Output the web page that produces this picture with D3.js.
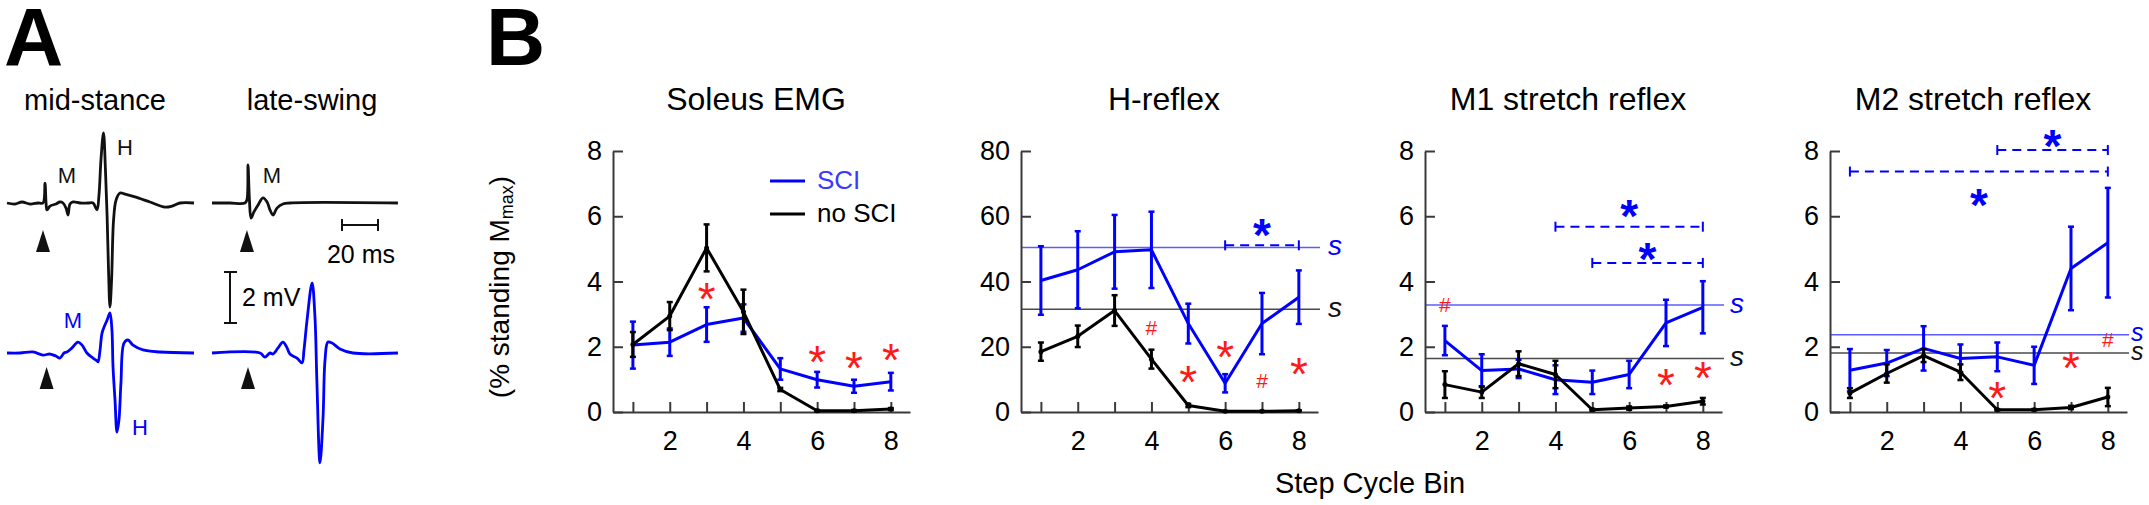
<!DOCTYPE html>
<html>
<head>
<meta charset="utf-8">
<script src="https://cdn.jsdelivr.net/npm/d3@7"></script>
<style>
  body { margin: 0; background: #fff; }
  text { font-family: "Liberation Sans", Arial, Helvetica, sans-serif; }
</style>
</head>
<body>
<svg id="fig" width="2149" height="505"></svg>
<script>
// ---------- data (panel B) ----------
var bins = [1, 2, 3, 4, 5, 6, 7, 8];
var binLabels = [2, 4, 6, 8];
var titles = ["Soleus EMG", "H-reflex", "M1 stretch reflex", "M2 stretch reflex"];

var emgSci    = [2.05, 2.14, 2.68, 2.88, 1.32, 0.99, 0.79, 0.93];
var emgSciErr = [0.72, 0.42, 0.53, 0.42, 0.33, 0.24, 0.20, 0.27];
var emgNo     = [2.07, 2.94, 5.03, 3.07, 0.69, 0.04, 0.04, 0.09];
var emgNoErr  = [0.38, 0.43, 0.72, 0.68, 0.05, 0.02, 0.02, 0.03];

var hSci    = [40.3, 43.6, 49.1, 49.7, 27.1, 8.8, 27.1, 35.2];
var hSciErr = [10.5, 11.8, 11.3, 11.7, 6.1, 2.8, 9.4, 8.2];
var hNo     = [18.5, 23.2, 31.1, 16.2, 2.0, 0.2, 0.2, 0.4];
var hNoErr  = [2.8, 3.3, 4.7, 2.9, 0.5, 0.1, 0.1, 0.1];

var m1Sci    = [2.19, 1.27, 1.32, 0.99, 0.91, 1.15, 2.73, 3.21];
var m1SciErr = [0.45, 0.50, 0.28, 0.44, 0.36, 0.42, 0.71, 0.80];
var m1No     = [0.84, 0.61, 1.48, 1.15, 0.07, 0.12, 0.17, 0.33];
var m1NoErr  = [0.41, 0.18, 0.38, 0.42, 0.03, 0.05, 0.03, 0.10];

var m2Sci    = [1.28, 1.50, 1.95, 1.64, 1.69, 1.43, 4.40, 5.19];
var m2SciErr = [0.65, 0.40, 0.68, 0.43, 0.44, 0.57, 1.28, 1.68];
var m2No     = [0.58, 1.18, 1.73, 1.22, 0.07, 0.07, 0.14, 0.46];
var m2NoErr  = [0.15, 0.28, 0.20, 0.24, 0.02, 0.02, 0.05, 0.28];

// standing values ("s" lines): [SCI, no SCI]
var hStanding  = [50.4, 31.5];
var m1Standing = [3.28, 1.64];
var m2Standing = [2.37, 1.81];

// within-group comparisons (dashed brackets): [fromBin, toBin, level, starBin, starLevel]
var hBrackets  = [[6, 8, 51.1, 7, 57.3]];
var m1Brackets = [[4, 8, 5.68, 6, 6.31], [5, 8, 4.57, 6.5, 5.0]];
var m2Brackets = [[5, 8, 8.03, 6.5, 8.48], [1, 8, 7.37, 4.5, 6.67]];

// between-group marks: [bin, symbol, level]
var emgMarks = [[3, "*", 3.78], [6, "*", 1.85], [7, "*", 1.66], [8, "*", 1.9]];
var hMarks   = [[4, "#", 26], [5, "*", 12.4], [6, "*", 20], [7, "#", 9.6], [8, "*", 14.9]];
var m1Marks  = [[1, "#", 3.29], [7, "*", 1.15], [8, "*", 1.35]];
var m2Marks  = [[5, "*", 0.74], [7, "*", 1.66], [8, "#", 2.22]];

// ---------- data (panel A traces, [ms, mV]) ----------
var msBlack = [[0,0],[4.4,-0.04],[8.3,0.04],[12.8,-0.04],[17.2,0],[20,0],[21.1,0.78],[21.7,0],[22.2,-0.27],
  [23.9,-0.12],[27.2,-0.04],[29.4,0.04],[31.1,0],[32.8,-0.2],[33.9,-0.47],[35,-0.04],[36.7,0.04],[40.6,0],
  [45,0],[47.8,0],[50,-0.27],[51.1,0.31],[52.2,1.69],[53.6,2.75],[54.7,1.29],[55.6,-0.47],[56.4,-2.63],
  [57.2,-4.08],[58.1,-3.02],[59.2,-0.67],[60.6,0.12],[62.8,0.39],[65.6,0.35],[71.1,0.24],[79.4,0.04],
  [87.8,-0.16],[91.7,-0.12],[96.1,0],[103.9,0]];
var lsBlack = [[0,0],[10,0],[18.3,0],[19.4,0.12],[20,1.49],[20.8,0.12],[21.7,-0.59],[23.3,-0.35],[25.6,-0.08],
  [28.3,0.2],[30.6,0.04],[32.2,-0.27],[33.9,-0.47],[36.1,-0.2],[39.4,-0.04],[43.3,0],[103.3,0]];
var msBlue = [[0,0],[7.2,0],[14.4,0.04],[20,-0.08],[23.9,-0.04],[27.2,-0.12],[29.4,-0.2],[31.7,0],[33.3,0.04],
  [36.1,0.2],[39.4,0.43],[41.7,0.31],[44.4,0],[47.8,-0.2],[50,-0.31],[50.6,-0.35],[51.7,0.12],[52.8,0.78],
  [54.4,1.1],[55.6,1.29],[57.2,1.57],[58.3,0.9],[58.9,-0.55],[60,-1.84],[61.1,-3.1],[62.2,-2.63],[63.3,-1.18],
  [65,0.39],[67.2,0.51],[70,0.31],[75.6,0.12],[85,0.04],[103.9,0]];
var lsBlue = [[0,0],[26.7,0],[29.4,-0.16],[32.2,0],[33.9,-0.04],[36.7,0.2],[39.4,0.43],[41.7,0.2],[43.3,-0.04],
  [47.2,-0.2],[50,-0.39],[51.1,0.12],[52.8,1.29],[55.6,2.75],[57.2,1.41],[58.3,-1.18],[60,-4.31],[61.7,-2.51],
  [62.8,-0.27],[64.4,0.43],[66.7,0.39],[71.1,0.16],[78.3,0],[103.3,0]];
var stimTimes = [20, 19.4, 22, 20]; // ms-black, ls-black, ms-blue, ls-blue

// ---------- layout ----------
var svg = d3.select("#fig");
var plotTop = 151, plotBottom = 412;
var plotW = 297, plotH = plotBottom - plotTop;
var blue = "#0000ff";
var axisColor = "#3a3a3a";

var panels = [
  {left: 613, ymax: 8,  ticks: [0, 2, 4, 6, 8],      sci: emgSci, sciErr: emgSciErr, no: emgNo, noErr: emgNoErr,
   standing: null, brackets: [], marks: emgMarks, legend: true},
  {left: 1021, ymax: 80, ticks: [0, 20, 40, 60, 80], sci: hSci, sciErr: hSciErr, no: hNo, noErr: hNoErr,
   standing: hStanding, brackets: hBrackets, marks: hMarks, sGap: 10, sSize: 28},
  {left: 1425, ymax: 8,  ticks: [0, 2, 4, 6, 8],     sci: m1Sci, sciErr: m1SciErr, no: m1No, noErr: m1NoErr,
   standing: m1Standing, brackets: m1Brackets, marks: m1Marks, sGap: 8, sSize: 28},
  {left: 1830, ymax: 8,  ticks: [0, 2, 4, 6, 8],     sci: m2Sci, sciErr: m2SciErr, no: m2No, noErr: m2NoErr,
   standing: m2Standing, brackets: m2Brackets, marks: m2Marks, sGap: 4, sSize: 25}
];

// panel letters
svg.append("text").attr("x", 4).attr("y", 65).attr("font-size", 82).attr("font-weight", "bold").text("A");
svg.append("text").attr("x", 486).attr("y", 65).attr("font-size", 82).attr("font-weight", "bold").text("B");

function drawSeries(g, x, y, vals, errs, color, dots) {
  var pts = bins.map(function(b, i) { return {b: b, v: vals[i], e: errs[i]}; });
  g.append("path").datum(pts)
    .attr("fill", "none").attr("stroke", color).attr("stroke-width", 3)
    .attr("stroke-linejoin", "round")
    .attr("d", d3.line().x(d => x(d.b)).y(d => y(d.v)));
  var eb = g.selectAll(null).data(pts).enter().append("g")
    .attr("stroke", color).attr("stroke-width", 3);
  eb.append("line")
    .attr("x1", d => x(d.b)).attr("x2", d => x(d.b))
    .attr("y1", d => y(d.v - d.e)).attr("y2", d => y(d.v + d.e));
  eb.append("line").attr("stroke-width", 2.5)
    .attr("x1", d => x(d.b) - 3).attr("x2", d => x(d.b) + 3)
    .attr("y1", d => y(d.v + d.e)).attr("y2", d => y(d.v + d.e));
  eb.append("line").attr("stroke-width", 2.5)
    .attr("x1", d => x(d.b) - 3).attr("x2", d => x(d.b) + 3)
    .attr("y1", d => y(d.v - d.e)).attr("y2", d => y(d.v - d.e));
  if (dots) {
    g.selectAll(null).data(pts).enter().append("circle")
      .attr("cx", d => x(d.b)).attr("cy", d => y(d.v)).attr("r", 2.5).attr("fill", color);
  }
}

panels.forEach(function(p, pi) {
  var g = svg.append("g").attr("transform", `translate(${p.left}, ${plotTop})`);
  var x = d3.scaleLinear().domain([0.46, 8.52]).range([0, plotW]);
  var y = d3.scaleLinear().domain([0, p.ymax]).range([plotH, 0]);

  g.append("text")
    .attr("x", 143).attr("y", 110 - plotTop)
    .attr("text-anchor", "middle").attr("font-size", 32)
    .text(titles[pi]);

  // standing reference lines
  if (p.standing) {
    var sCols = ["#5c5cff", "#4a4a4a"];
    p.standing.forEach(function(s, i) {
      g.append("line")
        .attr("x1", 0).attr("x2", plotW + 2)
        .attr("y1", y(s)).attr("y2", y(s))
        .attr("stroke", sCols[i]).attr("stroke-width", 1.6);
      g.append("text")
        .attr("x", plotW + p.sGap).attr("y", y(s)).attr("dy", "0.27em")
        .attr("font-size", p.sSize).attr("font-style", "italic")
        .attr("fill", i === 0 ? blue : "#111")
        .text("s");
    });
  }

  // axes
  var yAxis = g.append("g")
    .call(d3.axisLeft(y).tickValues(p.ticks).tickSize(-10).tickSizeOuter(0).tickPadding(11));
  var xAxis = g.append("g")
    .attr("transform", `translate(0, ${plotH})`)
    .call(d3.axisBottom(x).tickValues(bins).tickSize(-10).tickSizeOuter(0).tickPadding(19)
      .tickFormat(d => binLabels.indexOf(d) >= 0 ? d : ""));
  [xAxis, yAxis].forEach(function(a) {
    a.attr("font-size", 27).attr("font-family", null);
    a.select(".domain").attr("stroke", axisColor).attr("stroke-width", 2);
    a.selectAll(".tick line").attr("stroke", axisColor).attr("stroke-width", 2);
    a.selectAll(".tick text").attr("fill", "#000");
  });

  // series
  drawSeries(g, x, y, p.sci, p.sciErr, blue, false);
  drawSeries(g, x, y, p.no, p.noErr, "#000", true);

  // brackets
  p.brackets.forEach(function(b) {
    g.append("line")
      .attr("x1", x(b[0])).attr("x2", x(b[1]))
      .attr("y1", y(b[2])).attr("y2", y(b[2]))
      .attr("stroke", blue).attr("stroke-width", 2).attr("stroke-dasharray", "9,6");
    [b[0], b[1]].forEach(function(e) {
      g.append("line")
        .attr("x1", x(e)).attr("x2", x(e))
        .attr("y1", y(b[2]) - 5).attr("y2", y(b[2]) + 5)
        .attr("stroke", blue).attr("stroke-width", 2);
    });
    g.append("text")
      .attr("x", x(b[3])).attr("y", y(b[4])).attr("dy", "0.57em")
      .attr("text-anchor", "middle").attr("font-size", 46).attr("font-weight", "bold")
      .attr("fill", blue).text("*");
  });

  // between-group marks
  p.marks.forEach(function(m) {
    var star = m[1] === "*";
    g.append("text")
      .attr("x", x(m[0])).attr("y", y(m[2]))
      .attr("dy", star ? "0.57em" : "0.36em")
      .attr("text-anchor", "middle")
      .attr("font-size", star ? 46 : 21)
      .attr("fill", "#ff1a1a")
      .text(m[1]);
  });

  // legend
  if (p.legend) {
    var leg = [["SCI", blue, "#3a3aff"], ["no SCI", "#000", "#000"]];
    leg.forEach(function(l, i) {
      var ly = 181 - plotTop + i * 33;
      g.append("line").attr("x1", 157).attr("x2", 192).attr("y1", ly).attr("y2", ly)
        .attr("stroke", l[1]).attr("stroke-width", 3);
      g.append("text").attr("x", 204).attr("y", ly + 8).attr("font-size", 26)
        .attr("fill", l[2]).text(l[0]);
    });
  }
});

// y-axis label
var yl = svg.append("text")
  .attr("transform", "translate(509, 287) rotate(-90)")
  .attr("text-anchor", "middle").attr("font-size", 28);
yl.append("tspan").text("(% standing M");
yl.append("tspan").attr("font-size", 18).attr("dy", 4).text("max");
yl.append("tspan").attr("dy", -4).text(")");

// x-axis label
svg.append("text").attr("x", 1370).attr("y", 493).attr("text-anchor", "middle")
  .attr("font-size", 29).text("Step Cycle Bin");

// ---------- panel A ----------
var tScale = d3.scaleLinear().domain([0, 104]).range([0, 187.2]);
var vScale = d3.scaleLinear().domain([-5, 5]).range([127.5, -127.5]);
var traceLine = d3.line().x(d => tScale(d[0])).y(d => vScale(d[1])).curve(d3.curveCatmullRom.alpha(0.5));

var colX = [7, 212], rowY = [203, 353];
var traces = [
  {data: msBlack, col: 0, row: 0, color: "#111"},
  {data: lsBlack, col: 1, row: 0, color: "#111"},
  {data: msBlue,  col: 0, row: 1, color: blue},
  {data: lsBlue,  col: 1, row: 1, color: blue}
];
var arrowDrop = [27, 14];
traces.forEach(function(t, i) {
  var g = svg.append("g").attr("transform", `translate(${colX[t.col]}, ${rowY[t.row]})`);
  g.append("path").datum(t.data)
    .attr("fill", "none").attr("stroke", t.color).attr("stroke-width", 2.8)
    .attr("stroke-linejoin", "round").attr("d", traceLine);
  var ax = tScale(stimTimes[i]), top = arrowDrop[t.row], h = 22;
  g.append("path")
    .attr("d", `M${ax},${top} L${ax + 7},${top + h} L${ax - 7},${top + h} Z`)
    .attr("fill", "#111");
});

svg.append("text").attr("x", 95).attr("y", 110).attr("text-anchor", "middle").attr("font-size", 29).text("mid-stance");
svg.append("text").attr("x", 312).attr("y", 110).attr("text-anchor", "middle").attr("font-size", 29).text("late-swing");

var waveLabels = [["M", 67, 183, "#111"], ["H", 125, 155, "#111"], ["M", 272, 183, "#111"],
                  ["M", 73, 328, blue], ["H", 140, 435, blue]];
waveLabels.forEach(function(w) {
  svg.append("text").attr("x", w[1]).attr("y", w[2]).attr("text-anchor", "middle")
    .attr("font-size", 22).attr("fill", w[3]).text(w[0]);
});

// scale bars
var sb = svg.append("g").attr("stroke", "#111").attr("stroke-width", 2);
sb.append("line").attr("x1", 342).attr("x2", 342 + tScale(20)).attr("y1", 225).attr("y2", 225);
sb.append("line").attr("x1", 342).attr("x2", 342).attr("y1", 219).attr("y2", 231);
sb.append("line").attr("x1", 342 + tScale(20)).attr("x2", 342 + tScale(20)).attr("y1", 219).attr("y2", 231);
svg.append("text").attr("x", 361).attr("y", 263).attr("text-anchor", "middle").attr("font-size", 25).text("20 ms");

var mvTop = 323 + vScale(2);
sb.append("line").attr("x1", 230).attr("x2", 230).attr("y1", 323).attr("y2", mvTop);
sb.append("line").attr("x1", 224).attr("x2", 237).attr("y1", 323).attr("y2", 323);
sb.append("line").attr("x1", 224).attr("x2", 237).attr("y1", mvTop).attr("y2", mvTop);
svg.append("text").attr("x", 242).attr("y", 306).attr("font-size", 25).text("2 mV");
</script>
</body>
</html>
